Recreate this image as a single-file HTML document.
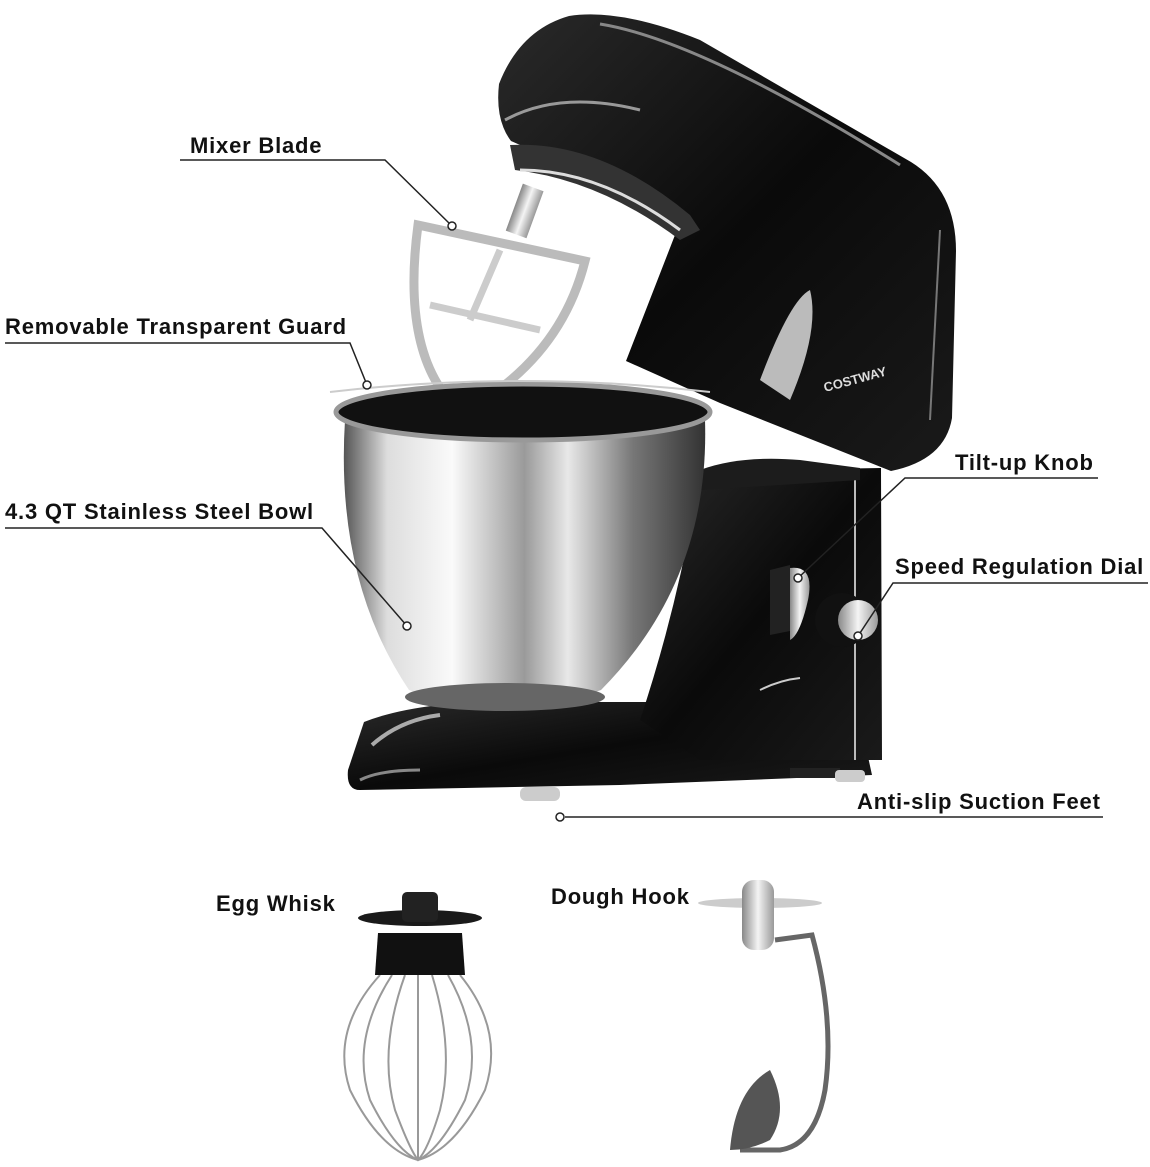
<!DOCTYPE html>
<html><head><meta charset="utf-8"><style>
html,body{margin:0;padding:0;background:#fff;}
body{width:1150px;height:1167px;position:relative;overflow:hidden;font-family:"Liberation Sans",Arial,sans-serif;}
.l{position:absolute;font-weight:bold;font-size:22px;color:#111;white-space:nowrap;letter-spacing:0.8px}
svg{position:absolute;left:0;top:0}
</style></head><body>
<svg width="1150" height="1167" viewBox="0 0 1150 1167">
<defs>
<linearGradient id="steel" x1="0" x2="1" y1="0" y2="0">
<stop offset="0" stop-color="#555"/><stop offset="0.12" stop-color="#ddd"/><stop offset="0.3" stop-color="#fafafa"/><stop offset="0.5" stop-color="#9a9a9a"/><stop offset="0.62" stop-color="#e8e8e8"/><stop offset="0.8" stop-color="#777"/><stop offset="1" stop-color="#333"/>
</linearGradient>
<linearGradient id="blk" x1="0" x2="1" y1="0" y2="1">
<stop offset="0" stop-color="#2a2a2a"/><stop offset="0.5" stop-color="#0a0a0a"/><stop offset="1" stop-color="#1a1a1a"/>
</linearGradient>
<linearGradient id="knob" x1="0" x2="1"><stop offset="0" stop-color="#888"/><stop offset="0.5" stop-color="#f4f4f4"/><stop offset="1" stop-color="#999"/></linearGradient>
</defs>
<!-- base -->
<path d="M364,722 Q420,700 520,702 L760,702 L860,720 L872,775 L620,785 L360,790 Q346,790 348,770 Z" fill="url(#blk)"/>
<path d="M372,745 Q400,720 440,715" stroke="#aaa" stroke-width="4" fill="none"/>
<path d="M360,780 Q380,770 420,770" stroke="#888" stroke-width="3" fill="none"/>
<rect x="520" y="787" width="40" height="14" rx="6" fill="#ccc"/>
<rect x="790" y="768" width="50" height="10" fill="#222"/>
<rect x="835" y="770" width="30" height="12" rx="4" fill="#ccc"/>
<!-- column -->
<path d="M700,471 L881,468 L882,760 L700,760 L640,720 Q680,600 700,471 Z" fill="url(#blk)"/>
<path d="M855,480 L855,760" stroke="#bbb" stroke-width="2"/>
<path d="M700,470 Q740,455 800,460 L860,468 L860,480 L700,490 Z" fill="#1c1c1c"/>
<!-- head -->
<path d="M499,84 Q520,30 569,16 Q620,8 700,40 L911,162 Q956,190 956,251 L952,418 Q945,460 891,471 L720,403 L626,361 L675,235 L691,220 L511,141 Q495,120 499,84 Z" fill="url(#blk)"/>
<path d="M600,24 Q700,40 900,165" stroke="#888" stroke-width="3" fill="none"/>
<path d="M505,120 Q560,90 640,110" stroke="#999" stroke-width="3" fill="none"/>
<path d="M940,230 L930,420" stroke="#777" stroke-width="2" fill="none"/>
<path d="M760,380 Q790,300 810,290 Q820,330 790,400 Z" fill="#bbb"/>
<path d="M510,145 Q600,140 690,215 L700,230 L680,240 Q600,180 515,170 Z" fill="#333"/>
<path d="M520,170 Q600,170 680,230" stroke="#ddd" stroke-width="3" fill="none"/>
<text x="825" y="392" font-family="Liberation Sans,sans-serif" font-size="13" font-weight="bold" fill="#ddd" transform="rotate(-15 825 392)">COSTWAY</text>
<!-- blade -->
<rect x="514" y="186" width="22" height="50" fill="url(#knob)" transform="rotate(20 525 210)"/>
<path d="M418,225 L585,261 Q560,360 462,413 Q400,360 418,225 Z" fill="none" stroke="#bbb" stroke-width="9"/>
<path d="M430,305 L540,330 M500,250 L470,320" stroke="#ccc" stroke-width="7"/>
<!-- bowl -->
<path d="M345,420 Q335,580 409,690 Q450,705 503,706 Q560,705 601,690 Q710,580 705,420 Z" fill="url(#steel)"/>
<ellipse cx="523" cy="412" rx="187" ry="28" fill="#111"/>
<ellipse cx="523" cy="412" rx="187" ry="28" fill="none" stroke="#999" stroke-width="5"/>
<ellipse cx="505" cy="697" rx="100" ry="14" fill="#666"/>
<path d="M330,392 Q520,370 710,392" stroke="#ccc" stroke-width="2" fill="none"/>
<!-- knob & dial -->
<path d="M770,570 L790,565 L795,630 L770,635 Z" fill="#222"/>
<path d="M790,568 Q815,565 808,600 Q800,635 790,640 Z" fill="url(#knob)"/>
<circle cx="842" cy="620" r="27" fill="#111"/>
<circle cx="858" cy="620" r="20" fill="url(#knob)"/>
<path d="M760,690 Q780,680 800,678" stroke="#ccc" stroke-width="2" fill="none"/>
<!-- connectors -->
<g stroke="#222" stroke-width="1.5" fill="#fff">
<polyline points="180,160 385,160 452,226" fill="none"/>
<polyline points="5,343 350,343 367,385" fill="none"/>
<polyline points="5,528 322,528 407,626" fill="none"/>
<polyline points="1098,478 905,478 798,578" fill="none"/>
<polyline points="1148,583 893,583 858,636" fill="none"/>
<polyline points="1103,817 565,817" fill="none"/>
<circle cx="452" cy="226" r="4"/><circle cx="367" cy="385" r="4"/><circle cx="407" cy="626" r="4"/>
<circle cx="798" cy="578" r="4"/><circle cx="858" cy="636" r="4"/><circle cx="560" cy="817" r="4"/>
</g>
<!-- whisk -->
<g fill="none" stroke="#999" stroke-width="2">
<path d="M380,975 Q330,1030 350,1090 Q380,1150 418,1160 Q455,1150 485,1090 Q505,1030 460,975"/>
<path d="M392,975 Q350,1040 370,1100 Q395,1150 418,1160 Q440,1150 465,1100 Q485,1040 448,975"/>
<path d="M405,975 Q378,1050 395,1110 Q410,1150 418,1160 Q428,1150 440,1110 Q455,1050 432,975"/>
<path d="M418,975 L418,1160"/>
</g>
<path d="M378,933 L462,933 L465,975 L375,975 Z" fill="#111"/>
<ellipse cx="420" cy="918" rx="62" ry="8" fill="#1a1a1a"/>
<rect x="402" y="892" width="36" height="30" rx="5" fill="#222"/>
<!-- dough hook -->
<ellipse cx="760" cy="903" rx="62" ry="5" fill="#ccc"/>
<rect x="742" y="880" width="32" height="70" rx="12" fill="url(#knob)"/>
<path d="M775,940 L812,935 Q835,1020 825,1090 Q815,1145 780,1150 L740,1150" fill="none" stroke="#666" stroke-width="5"/>
<path d="M770,1070 Q790,1110 770,1140 Q750,1150 730,1150 Q735,1090 770,1070 Z" fill="#555"/>
</svg>
<div class="l" style="left:190px;top:133px">Mixer Blade</div>
<div class="l" style="left:5px;top:314px">Removable Transparent Guard</div>
<div class="l" style="left:5px;top:499px">4.3 QT Stainless Steel Bowl</div>
<div class="l" style="left:955px;top:450px">Tilt-up Knob</div>
<div class="l" style="left:895px;top:554px">Speed Regulation Dial</div>
<div class="l" style="left:857px;top:789px">Anti-slip Suction Feet</div>
<div class="l" style="left:216px;top:891px">Egg Whisk</div>
<div class="l" style="left:551px;top:884px">Dough Hook</div>
</body></html>
